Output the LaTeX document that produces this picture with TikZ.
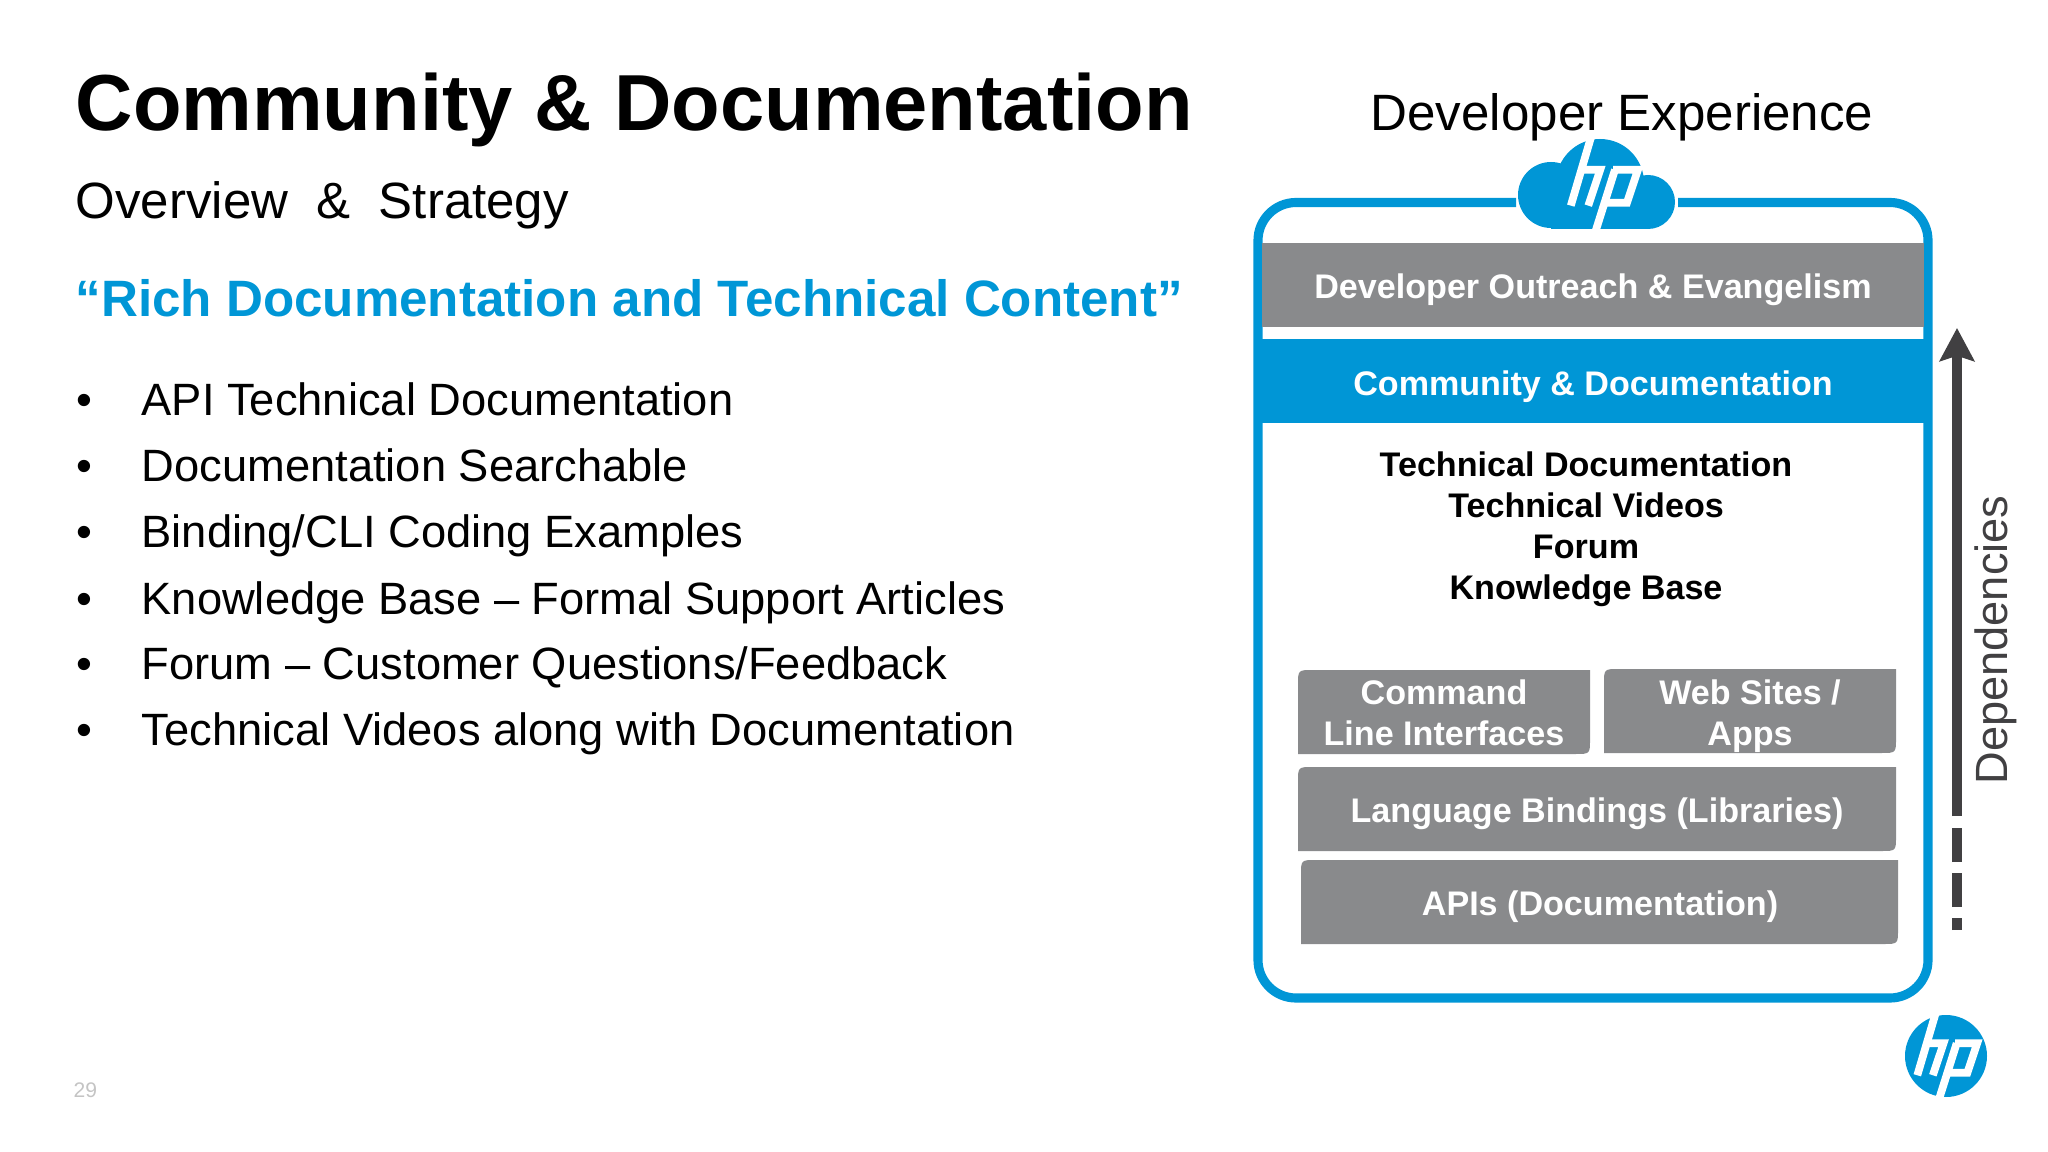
\documentclass[tikz,border=0pt]{standalone}
\usepackage{fontspec}
\setmainfont{Liberation Sans}
\usetikzlibrary{arrows.meta}
\definecolor{hpblue}{HTML}{0096D6}
\definecolor{layergray}{HTML}{898A8C}
\definecolor{depgray}{HTML}{414042}
\definecolor{pagenum}{HTML}{C4C4C4}
\tikzset{
    titletext/.style={anchor=base west, inner sep=0pt, font=\fontsize{22.6}{27}\selectfont\bfseries},
    subtext/.style={anchor=base west, inner sep=0pt, font=\fontsize{14.5}{17}\selectfont},
    quotetext/.style={anchor=base west, inner sep=0pt, text=hpblue, font=\fontsize{14.54}{18}\selectfont\bfseries},
    itemtext/.style={anchor=base west, inner sep=0pt, font=\fontsize{12.88}{16}\selectfont},
    layertext/.style={text=white, align=center, inner sep=0pt, font=\fontsize{9.7}{11.7}\selectfont\bfseries},
    frameline/.style={draw=hpblue, line width=2.6pt, rounded corners=10.8pt},
    hpstroke/.style={draw=white, line width=#1, line cap=butt, line join=miter},
}
% layer box, top left and bottom right corners are round
\newcommand{\layerbox}[4]{
    \fill[layergray] (#1,#4) -- (#1,#2+15) .. controls (#1,#2) .. (#1+15,#2) -- (#3,#2) -- (#3,#4-15) .. controls (#3,#4) .. (#3-15,#4) -- cycle;
}
\newcommand{\hpmark}[4]{
    \begin{scope}[shift={(#1,#2)}, x=#3*0.01cm, y=-#3*0.01cm]
        \draw[hpstroke=#4] (-.26,-1.02) -- (-.70,.47);           %h stem
        \draw[hpstroke=#4] (-.48,-.31) -- (-.06,-.31) -- (-.32,.47);  %h arch
        \draw[hpstroke=#4] (.26,-.31) -- (-.16,1.02);           %p stem
        \draw[hpstroke=#4] (.22,-.31) -- (.76,-.31) -- (.52,.41) -- (.04,.41);  %p bowl
    \end{scope}
}
\begin{document}
\begin{tikzpicture}[x=0.01cm, y=-0.01cm]
    \useasboundingbox (0,0) rectangle (2048,1152);

    \node[titletext] (title) at (75,131) {Community \& Documentation};
    \node[subtext] (subtitle) at (75,219) {Overview\ \ \&\ \ Strategy};
    \node[quotetext] (quote) at (75,317) {“Rich Documentation and Technical Content”};

    \node[itemtext] (dotone) at (76,416) {•};
    \node[itemtext] (itemone) at (141,416) {API Technical Documentation};
    \node[itemtext] (dottwo) at (76,481.7) {•};
    \node[itemtext] (itemtwo) at (141,481.7) {Documentation Searchable};
    \node[itemtext] (dotthree) at (76,547.7) {•};
    \node[itemtext] (itemthree) at (141,547.7) {Binding/CLI Coding Examples};
    \node[itemtext] (dotfour) at (76,614) {•};
    \node[itemtext] (itemfour) at (141,614) {Knowledge Base – Formal Support Articles};
    \node[itemtext] (dotfive) at (76,679.7) {•};
    \node[itemtext] (itemfive) at (141,679.7) {Forum – Customer Questions/Feedback};
    \node[itemtext] (dotsix) at (76,745.7) {•};
    \node[itemtext] (itemsix) at (141,745.7) {Technical Videos along with Documentation};

    \node[anchor=base west, inner sep=0pt, text=pagenum, font=\fontsize{6}{7}\selectfont] (pageno) at (73,1097) {29};

    \node[anchor=base, inner sep=0pt, font=\fontsize{14.53}{17}\selectfont] (devexp) at (1622,131) {Developer Experience};

    % frame, open where the cloud sits
    \draw[frameline] (1516,202.5) -- (1258,202.5) -- (1258,998) -- (1928,998) -- (1928,202.5) -- (1678,202.5);

    % cloud
    \fill[hpblue] (1600,183) circle (44);
    \fill[hpblue] (1551,195) circle (33);
    \fill[hpblue] (1648,202) circle (27);
    \fill[hpblue] (1551,195) rectangle (1648,229);
    \hpmark{1603}{184}{46}{2.2pt}

    % bands
    \fill[layergray] (1262,243) rectangle (1924,327);
    \node[layertext] (outreach) at (1593,290) {Developer Outreach \& Evangelism};
    \fill[hpblue] (1262,339) rectangle (1924,423);
    \node[layertext] (community) at (1593,387) {Community \& Documentation};

    \node[layertext, text=black] (contents) at (1586,529) {Technical Documentation\\Technical Videos\\Forum\\Knowledge Base};

    % layers
    \layerbox{1298}{670}{1590}{754}
    \node[layertext] (cli) at (1444,713) {Command\\Line Interfaces};
    \layerbox{1604}{669}{1896}{753}
    \node[layertext] (websites) at (1750,716) {Web Sites /\\Apps};
    \layerbox{1298}{767}{1896}{851}
    \node[layertext] (bindings) at (1597,814) {Language Bindings (Libraries)};
    \layerbox{1301}{860}{1898}{944}
    \node[layertext] (apis) at (1600,907) {APIs (Documentation)};

    % dependencies arrow
    \coordinate (depstart) at (1957,930);
    \coordinate (deptip) at (1957,328);
    \draw[depgray, line width=3.1pt, dash pattern=on 3.4pt off 3.1pt on 9.7pt off 3.1pt on 9.7pt off 3.4pt on 200pt, -{Stealth[length=9.4pt, width=9.8pt, inset=1.5pt]}] (depstart) -- (deptip);
    \node[anchor=base, rotate=90, inner sep=0pt, text=depgray, font=\fontsize{12.85}{16}\selectfont] (deps) at (2007,640) {Dependencies};

    % logo
    \fill[hpblue] (1946,1056) circle (41);
    \hpmark{1946}{1056}{41}{2.2pt}
\end{tikzpicture}
\end{document}
